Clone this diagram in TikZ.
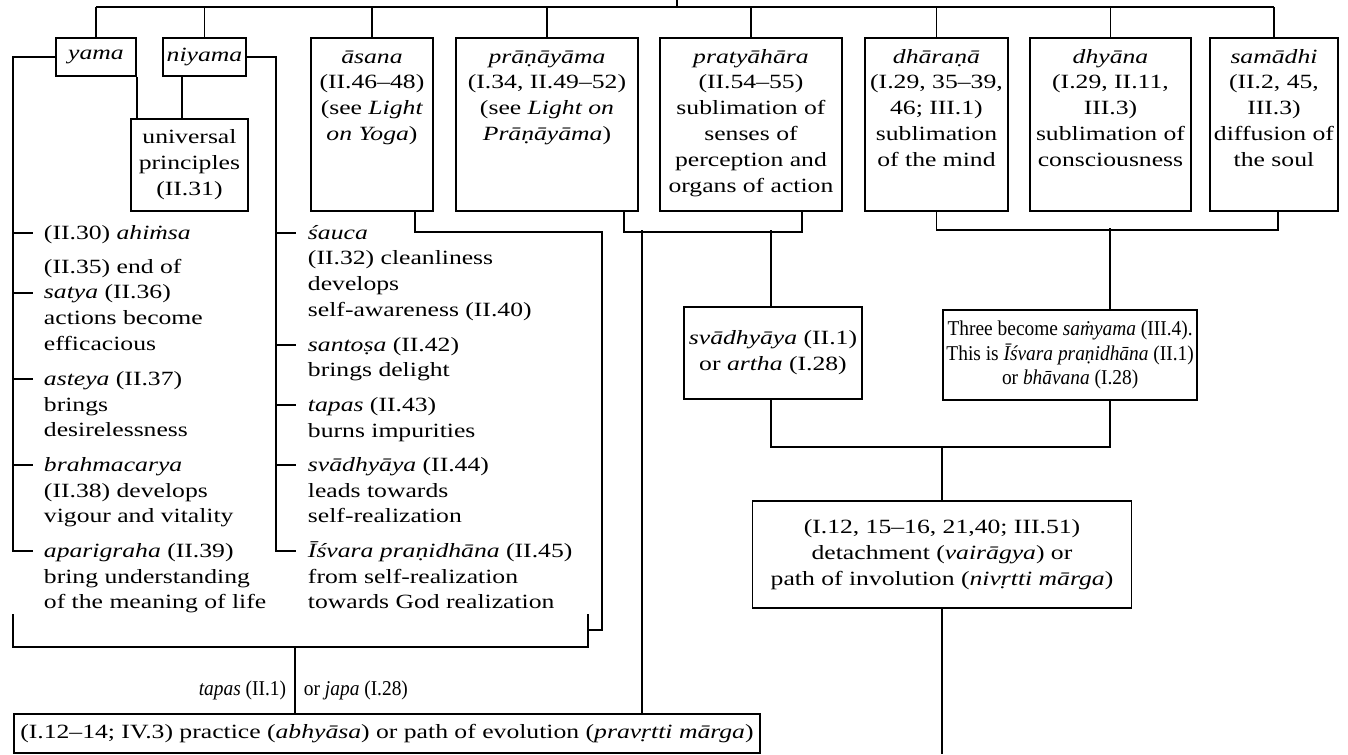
\documentclass[tikz,border=0pt]{standalone}
\usepackage{fontspec}
\setmainfont{Liberation Serif}
\newfontfamily\bookfont{Liberation Serif}[FakeStretch=1.27]
\newfontfamily\narrowfont{Liberation Serif}[FakeStretch=0.92]
\usetikzlibrary{positioning}

\newlength\px
\setlength\px{0.02cm}
\newcommand\upperfont{\bookfont\fontsize{11.5}{14.74}\selectfont}
\newcommand\lowerfont{\narrowfont\fontsize{12}{14.2}\selectfont}

\begin{document}
\begin{tikzpicture}[
    x=0.02cm, y=-0.02cm,
    line width=1.1pt,
    limb/.style = {
        rectangle, draw, inner sep=0pt,
        anchor=north west, align=center, font=\upperfont
    },
    limbtext/.style = {
        anchor=north, align=center, inner sep=0pt, font=\upperfont
    },
    entry/.style = {
        anchor=north west, align=left, inner sep=0pt, font=\upperfont
    },
    lowbox/.style = {
        rectangle, draw, inner sep=2pt,
        anchor=north west, align=center, font=\upperfont
    },
    lowlabel/.style = {inner sep=0pt, font=\lowerfont}
]
\useasboundingbox (0,0) rectangle (1348,754);

% ===== EIGHT LIMBS =====
\node[limb, minimum width=80\px, minimum height=38\px] (yama) at (55,37) {\textit{yama}};
\node[limb, minimum width=83\px, minimum height=38\px] (niyama) at (162,37) {\textit{niyama}};
\node[limb, minimum width=117\px, minimum height=92\px, text depth=5\px] (univ) at (130,118) {universal\\principles\\(II.31)};

\node[limb, minimum width=122\px, minimum height=173\px] (asana) at (310,37) {};
\node[limbtext] (asanatxt) at ([yshift=-7\px]asana.north) {\strut\textit{āsana}\\(II.46–48)\\(see \textit{Light}\\\textit{on Yoga})};

\node[limb, minimum width=182\px, minimum height=173\px] (pranayama) at (455,37) {};
\node[limbtext] (pranayamatxt) at ([yshift=-7\px]pranayama.north) {\strut\textit{prāṇāyāma}\\(I.34, II.49–52)\\(see \textit{Light on}\\\textit{Prāṇāyāma})};

\node[limb, minimum width=182\px, minimum height=173\px] (pratyahara) at (659,37) {};
\node[limbtext] (pratyaharatxt) at ([yshift=-7\px]pratyahara.north) {\strut\textit{pratyāhāra}\\(II.54–55)\\sublimation of\\senses of\\perception and\\organs of action};

\node[limb, minimum width=143\px, minimum height=173\px] (dharana) at (864,37) {};
\node[limbtext] (dharanatxt) at ([yshift=-7\px]dharana.north) {\strut\textit{dhāraṇā}\\(I.29, 35–39,\\46; III.1)\\sublimation\\of the mind};

\node[limb, minimum width=161\px, minimum height=173\px] (dhyana) at (1029,37) {};
\node[limbtext] (dhyanatxt) at ([yshift=-7\px]dhyana.north) {\strut\textit{dhyāna}\\(I.29, II.11,\\III.3)\\sublimation of\\consciousness};

\node[limb, minimum width=128\px, minimum height=173\px] (samadhi) at (1209,37) {};
\node[limbtext] (samadhitxt) at ([yshift=-7\px]samadhi.north) {\strut\textit{samādhi}\\(II.2, 45,\\III.3)\\diffusion of\\the soul};

% ===== YAMA LIST =====
\node[entry] (ahimsa) at (43,220) {\strut(II.30) \textit{ahiṁsa}};
\node[entry] (satya) at (43,254) {\strut(II.35) end of\\\textit{satya} (II.36)\\actions become\\efficacious};
\node[entry] (asteya) at (43,366) {\strut\textit{asteya} (II.37)\\brings\\desirelessness};
\node[entry] (brahma) at (43,452) {\strut\textit{brahmacarya}\\(II.38) develops\\vigour and vitality};
\node[entry] (aparigraha) at (43,538) {\strut\textit{aparigraha} (II.39)\\bring understanding\\of the meaning of life};

% ===== NIYAMA LIST =====
\node[entry] (sauca) at (307,220) {\strut\textit{śauca}\\(II.32) cleanliness\\develops\\self-awareness (II.40)};
\node[entry] (santosa) at (307,332) {\strut\textit{santoṣa} (II.42)\\brings delight};
\node[entry] (tapas) at (307,392) {\strut\textit{tapas} (II.43)\\burns impurities};
\node[entry] (svadhyaya) at (307,452) {\strut\textit{svādhyāya} (II.44)\\leads towards\\self-realization};
\node[entry] (isvara) at (307,538) {\strut\textit{Īśvara praṇidhāna} (II.45)\\from self-realization\\towards God realization};

% ===== LOWER BOXES =====
\node[lowbox, minimum width=178\px, minimum height=92\px] (study) at (683,306) {\textit{svādhyāya} (II.1)\\or \textit{artha} (I.28)};
\node[lowbox, minimum width=249\px, minimum height=90\px, font=\lowerfont] (samyama) at (942,309) {Three become \textit{saṁyama} (III.4).\\This is \textit{Īśvara praṇidhāna} (II.1)\\or \textit{bhāvana} (I.28)};
\coordinate (involjoin) at (942,447);
\node[lowbox, anchor=north, minimum width=379\px, minimum height=107\px, below=53\px of involjoin] (detach) {(I.12, 15–16, 21,40; III.51)\\detachment (\textit{vairāgya}) or\\path of involution (\textit{nivṛtti mārga})};
\node[lowbox, minimum width=746\px, minimum height=39\px] (evolution) at (13,713) {(I.12–14; IV.3) practice (\textit{abhyāsa}) or path of evolution (\textit{pravṛtti mārga})};

\node[lowlabel, anchor=east] (tapasone) at (287,690) {\textit{tapas} (II.1)};
\node[lowlabel, anchor=west] (japa) at (303,690) {or \textit{japa} (I.28)};

% ===== JUNCTION POINTS =====
\coordinate (hub) at (677,7);
\coordinate (hubtop) at (677,0);
\coordinate (railL) at (13,0);
\coordinate (railR) at (276,0);
\coordinate (evoL) at (13,614);
\coordinate (evoR) at (588,614);
\coordinate (evobase) at (295,647);
\coordinate (asanadrop) at (602,630);
\coordinate (sensesL) at (642,230);
\coordinate (sensesR) at (771,230);
\coordinate (meditjoin) at (1110,228);
\coordinate (bottomend) at (942,754);

\coordinate (tAhimsa) at ([yshift=-13\px]ahimsa.north west);
\coordinate (tSatya) at ([yshift=-39\px]satya.north west);
\coordinate (tAsteya) at ([yshift=-13\px]asteya.north west);
\coordinate (tBrahma) at ([yshift=-13\px]brahma.north west);
\coordinate (tAparigraha) at ([yshift=-13\px]aparigraha.north west);
\coordinate (tSauca) at ([yshift=-13\px]sauca.north west);
\coordinate (tSantosa) at ([yshift=-13\px]santosa.north west);
\coordinate (tTapas) at ([yshift=-13\px]tapas.north west);
\coordinate (tSvadhyaya) at ([yshift=-13\px]svadhyaya.north west);
\coordinate (tIsvara) at ([yshift=-13\px]isvara.north west);

% ===== CONNECTORS =====
\draw (hub) -- (hubtop);
\draw (yama.north |- hub) -- (samadhi.north |- hub);
\foreach \n in {yama,niyama,asana,pranayama,pratyahara,dharana,dhyana,samadhi}
    \draw (\n.north) -- (\n.north |- hub);

\draw (yama.south east) -- (yama.south east |- univ.north);
\draw ([xshift=20\px]niyama.south west) -- ([xshift=20\px]niyama.south west |- univ.north);

\draw (yama.west) -| (railL |- tAparigraha) -- ++(20,0);
\foreach \t in {tAhimsa,tSatya,tAsteya,tBrahma}
    \draw (railL |- \t) -- ++(20,0);
\draw (niyama.east) -| (railR |- tIsvara) -- ++(20,0);
\foreach \t in {tSauca,tSantosa,tTapas,tSvadhyaya}
    \draw (railR |- \t) -- ++(20,0);

\draw (evoL) |- (evobase) -| (evoR);
\draw (evobase) -- (evolution.north -| evobase);
\draw ([xshift=-19\px]asana.south east) -- ++(0,20) -| (asanadrop) -- (evoR |- asanadrop);

\draw ([xshift=-15\px]pranayama.south east) -- ++(0,20) -| ([xshift=-41\px]pratyahara.south east);
\draw (sensesL) -- (evolution.north -| sensesL);
\draw (sensesR) -- (study.north -| sensesR);

\draw (dharana.south) -- ++(0,18) -| ([xshift=4\px]samadhi.south);
\draw (meditjoin) -- (samyama.north -| meditjoin);

\draw (study.south -| sensesR) |- (involjoin) -| (samyama.south -| meditjoin);
\draw (involjoin) -- (detach.north);
\draw (detach.south) -- (bottomend);
\end{tikzpicture}
\end{document}
